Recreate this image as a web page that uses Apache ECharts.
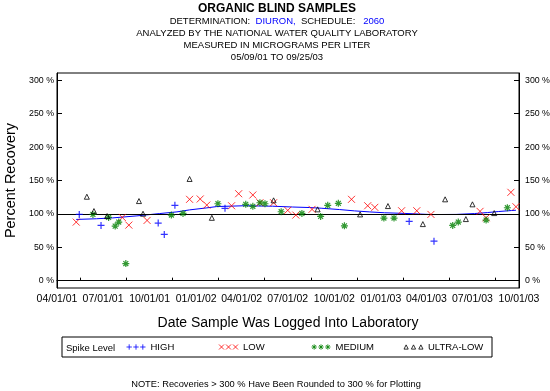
<!DOCTYPE html>
<html><head><meta charset="utf-8">
<script src="https://cdn.jsdelivr.net/npm/echarts@6/dist/echarts.min.js"></script>
<style>html,body{margin:0;padding:0;background:#fff}#c{width:550px;height:391px}</style>
</head><body><div id="c"></div><script>
// ---- data ----
const xTickLabels = ['04/01/01','07/01/01','10/01/01','01/01/02','04/01/02','07/01/02','10/01/02','01/01/03','04/01/03','07/01/03','10/01/03'];
const xTickDates = ['2001-04-01','2001-07-01','2001-10-01','2002-01-01','2002-04-01','2002-07-01','2002-10-01','2003-01-01','2003-04-01','2003-07-01','2003-10-01'];
const xMidTickDates = ['2001-05-16','2001-08-16','2001-11-15','2002-02-14','2002-05-16','2002-08-16','2002-11-15','2003-02-14','2003-05-16','2003-08-16'];
const yTickValues = [0,50,100,150,200,250,300];
const yTickLabels = ['0 %','50 %','100 %','150 %','200 %','250 %','300 %'];

const highDates = ['2001-05-15','2001-06-27','2001-10-18','2001-10-30','2001-11-20','2002-02-27','2003-02-26','2003-04-16'];
const highValues = [99.2,82.7,86.2,69.2,112.8,108.3,88.7,59.1];

const lowDates = ['2001-05-09','2001-08-08','2001-08-21','2001-09-26','2001-12-19','2002-01-09','2002-01-22','2002-03-12','2002-03-26','2002-04-23','2002-05-07','2002-06-03','2002-07-01','2002-07-17','2002-08-18','2002-11-04','2002-12-06','2002-12-20','2003-02-11','2003-03-13','2003-04-10','2003-07-16','2003-07-28','2003-09-15','2003-09-25'];
const lowValues = [87.7,94.7,83.2,90.2,121.8,122.3,113.2,112.2,130.2,128.3,116.7,116.7,105.3,98.2,106.8,121.8,112.2,109.8,104.7,104.7,99.2,103.8,94.1,132.3,110.7];

const mediumDates = ['2001-06-11','2001-07-12','2001-07-25','2001-08-01','2001-08-15','2001-11-13','2001-12-06','2002-02-13','2002-04-09','2002-04-23','2002-05-07','2002-05-17','2002-06-18','2002-07-29','2002-09-04','2002-09-18','2002-10-09','2002-10-21','2003-01-07','2003-01-27','2003-05-23','2003-06-03','2003-07-28','2003-09-08'];
const mediumValues = [99.2,94.7,81.7,87.7,25.6,98.2,100.7,115.2,114.3,111.3,116.7,115.2,103.2,100.7,96.2,112.8,115.8,82.1,93.7,93.7,82.7,87.7,90.7,109.2];

const ultraDates = ['2001-05-30','2001-06-13','2001-07-09','2001-09-10','2001-09-18','2001-12-19','2002-02-01','2002-06-03','2002-08-29','2002-11-21','2003-01-15','2003-03-25','2003-05-08','2003-06-18','2003-07-01','2003-08-13'];
const ultraValues = [125.7,104.2,96.7,119.2,100.2,152.3,94.1,120.3,106.8,99.2,111.7,84.7,121.8,92.2,114.3,101.2];

const trendDates = ['2001-05-09','2001-06-18','2001-07-20','2001-09-06','2001-10-21','2001-11-24','2001-12-19','2002-01-22','2002-02-11','2002-04-07','2002-06-01','2002-07-10','2002-08-13','2002-09-05','2002-10-11','2002-11-10','2002-12-09','2003-01-08','2003-02-17','2003-04-11','2003-05-30','2003-07-05','2003-07-31','2003-08-21','2003-09-16','2003-09-25'];
const trendValues = [91.7,92.7,94,97,100.5,103,106,109,111,112.2,111.5,110.3,109.5,108.5,106.5,104.5,103,101.7,100.7,99,99.2,100.5,102,103.5,105,105.5];

// ---- helpers: dates -> days since first tick date ----
const DAY = 86400000;
function utc(s){const p=s.split('-').map(Number);return Date.UTC(p[0],p[1]-1,p[2]);}
const T0 = utc(xTickDates[0]);
function toD(s){return Math.round((utc(s)-T0)/DAY);}
function pts(ds,vs){return ds.map((d,i)=>[toD(d),vs[i]]);}
const xTickDays = xTickDates.map(toD);
const labelMap = {}; xTickDays.forEach((d,i)=>labelMap[d]=xTickLabels[i]);
const yLabelMap = {}; yTickValues.forEach((v,i)=>yLabelMap[v]=yTickLabels[i]);

const FONT = 'Liberation Sans, Arial, sans-serif';
const PLUS = 'path://M0,5L10,5M5,0L5,10';
const CROSS = 'path://M0,0L10,10M10,0L0,10';
const STAR = 'path://M0,5L10,5M5,0L5,10M1.5,1.5L8.5,8.5M8.5,1.5L1.5,8.5';
const TRI = 'path://M0,10L5,0L10,10Z';
const PLUS3 = 'path://M0,3.5L5.5,3.5M2.75,0.75L2.75,6.25M7,3.5L12.5,3.5M9.75,0.75L9.75,6.25M14,3.5L19.5,3.5M16.75,0.75L16.75,6.25';
const CROSS3 = 'path://M0,1L5,6M5,1L0,6M7,1L12,6M12,1L7,6M14,1L19,6M19,1L14,6';
const STAR3 = 'path://M0,3.5L5.5,3.5M2.75,0.75L2.75,6.25M0.8,1.5L4.7,5.5M4.7,1.5L0.8,5.5M7,3.5L12.5,3.5M9.75,0.75L9.75,6.25M7.8,1.5L11.7,5.5M11.7,1.5L7.8,5.5M14,3.5L19.5,3.5M16.75,0.75L16.75,6.25M14.8,1.5L18.7,5.5M18.7,1.5L14.8,5.5';
const TRI3 = 'path://M0.5,5.5L2.5,1.5L4.5,5.5ZM7.5,5.5L9.5,1.5L11.5,5.5ZM14.5,5.5L16.5,1.5L18.5,5.5Z';

const chart = echarts.init(document.getElementById('c'), null, {renderer:'canvas'});
const sub = {fontFamily:FONT,fontSize:9.5,color:'#000',fontWeight:'normal',lineHeight:12};
const legText = {fontFamily:FONT,fontSize:9.5,color:'#000',width:60,lineHeight:13};
function legStyle(c){return {color:'rgba(0,0,0,0)',borderColor:c,borderWidth:1};}
chart.setOption({
  animation:false,
  backgroundColor:'#fff',
  title:[
    {text:'ORGANIC BLIND SAMPLES',left:277,top:2,textAlign:'center',padding:0,
     textStyle:{fontFamily:FONT,fontSize:12,fontWeight:'bold',color:'#000',lineHeight:13}},
    {text:'{a|DETERMINATION:  }{b|DIURON,}{a|  SCHEDULE:   }{b|2060}',left:277,top:15,textAlign:'center',padding:0,
     textStyle:{rich:{a:sub,b:Object.assign({},sub,{color:'#0000ff'})}}},
    {text:'ANALYZED BY THE NATIONAL WATER QUALITY LABORATORY',left:277,top:27,textAlign:'center',padding:0,textStyle:sub},
    {text:'MEASURED IN MICROGRAMS PER LITER',left:277,top:39,textAlign:'center',padding:0,textStyle:sub},
    {text:'05/09/01 TO 09/25/03',left:277,top:51,textAlign:'center',padding:0,textStyle:sub},
    {text:'NOTE: Recoveries > 300 % Have Been Rounded to 300 % for Plotting',left:276,top:378,textAlign:'center',padding:0,
     textStyle:Object.assign({},sub,{fontSize:9.3})}
  ],
  grid:{left:57,right:31,top:73,bottom:103,show:true,borderColor:'#000',borderWidth:1,containLabel:false,outerBoundsMode:'none'},
  xAxis:{type:'value',min:xTickDays[0],max:xTickDays[xTickDays.length-1],
    name:'Date Sample Was Logged Into Laboratory',nameLocation:'middle',nameGap:28,
    nameTextStyle:{fontFamily:FONT,fontSize:14,color:'#000'},
    axisLine:{lineStyle:{color:'#000',width:1}},
    axisTick:{show:true,inside:true,length:3,lineStyle:{color:'#000'},customValues:xMidTickDates.map(toD)},
    axisLabel:{fontFamily:FONT,fontSize:10.5,color:'#000',margin:6,customValues:xTickDays,
      formatter:v=>labelMap[v]||'',showMinLabel:true,showMaxLabel:true,hideOverlap:false},
    splitLine:{show:false}},
  yAxis:[
    {type:'value',min:-11,max:311,position:'left',
     name:'Percent Recovery',nameLocation:'middle',nameGap:34,nameRotate:90,
     nameTextStyle:{fontFamily:FONT,fontSize:14.5,color:'#000'},
     axisLine:{show:true,lineStyle:{color:'#000'}},
     axisTick:{show:true,inside:true,length:5,lineStyle:{color:'#000'},customValues:yTickValues},
     axisLabel:{fontFamily:FONT,fontSize:8.8,color:'#000',margin:3,customValues:yTickValues,formatter:v=>yLabelMap[v]},
     splitLine:{show:false}},
    {type:'value',min:-11,max:311,position:'right',
     axisLine:{show:true,lineStyle:{color:'#000'}},
     axisTick:{show:true,inside:true,length:5,lineStyle:{color:'#000'},customValues:yTickValues},
     axisLabel:{fontFamily:FONT,fontSize:8.8,color:'#000',margin:6,customValues:yTickValues,formatter:v=>yLabelMap[v]},
     splitLine:{show:false}}
  ],
  legend:{left:62,top:337,orient:'horizontal',padding:[5,4,5,64],itemGap:8,itemWidth:19,itemHeight:6,
    borderColor:'#000',borderWidth:1,selectedMode:false,
    formatter:'{w|{name}}',
    textStyle:{fontFamily:FONT,fontSize:9.5,color:'#000',rich:{w:legText}},
    data:[{name:'HIGH',icon:PLUS3,itemStyle:legStyle('#0000ff')},
          {name:'LOW',icon:CROSS3,itemStyle:legStyle('#ff0000')},
          {name:'MEDIUM',icon:STAR3,itemStyle:legStyle('#008000')},
          {name:'ULTRA-LOW',icon:TRI3,itemStyle:legStyle('#000000')}]},
  graphic:[{type:'text',x:66,y:348,style:{text:'Spike Level',fontFamily:FONT,fontSize:9.5,fill:'#000',verticalAlign:'middle'}}],
  series:[
    {name:'trend',type:'line',data:pts(trendDates,trendValues),showSymbol:false,symbol:'none',
     lineStyle:{color:'#0000ff',width:1},itemStyle:{color:'#0000ff'},z:3,silent:true,
     markLine:{silent:true,symbol:'none',label:{show:false},lineStyle:{color:'#000',width:1,type:'solid'},data:[{yAxis:100}]}},
    {name:'HIGH',type:'scatter',symbol:PLUS,symbolSize:7,data:pts(highDates,highValues),z:5,
     itemStyle:{color:'#0000ff',borderColor:'#0000ff',borderWidth:1.2}},
    {name:'LOW',type:'scatter',symbol:CROSS,symbolSize:7,data:pts(lowDates,lowValues),z:5,
     itemStyle:{color:'#ff0000',borderColor:'#ff0000',borderWidth:1}},
    {name:'MEDIUM',type:'scatter',symbol:STAR,symbolSize:7,data:pts(mediumDates,mediumValues),z:5,
     itemStyle:{color:'#008000',borderColor:'#008000',borderWidth:1.2}},
    {name:'ULTRA-LOW',type:'scatter',symbol:TRI,symbolSize:5,data:pts(ultraDates,ultraValues),z:5,
     itemStyle:{color:'rgba(0,0,0,0)',borderColor:'#000',borderWidth:1}}
  ]
});
</script></body></html>
